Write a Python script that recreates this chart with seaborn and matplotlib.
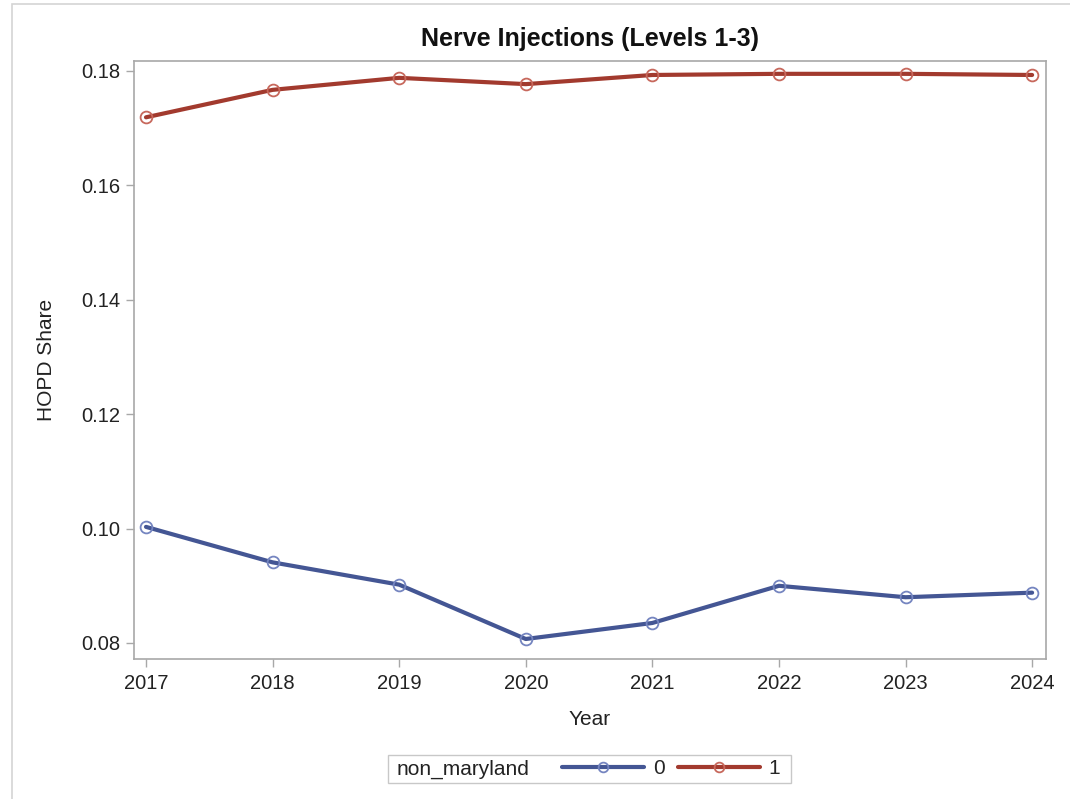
import matplotlib.pyplot as plt
import matplotlib.patches as mpatches
from matplotlib.lines import Line2D
import pandas as pd
import seaborn as sns

sns.set_theme(style="white")
plt.rcParams['font.family'] = ['Liberation Sans', 'DejaVu Sans']

years = [2017, 2018, 2019, 2020, 2021, 2022, 2023, 2024]
share_0 = [0.1003, 0.0941, 0.0902, 0.0807, 0.0835, 0.0900, 0.0880, 0.0888]
share_1 = [0.1719, 0.1767, 0.1788, 0.1777, 0.1793, 0.1795, 0.1795, 0.1793]
groups = ['0', '1']
line_colors = {'0': '#445694', '1': '#A23A2E'}
marker_colors = {'0': '#7585c0', '1': '#c7685c'}

df = pd.DataFrame({
    'Year': years * 2,
    'HOPD Share': share_0 + share_1,
    'non_maryland': ['0'] * len(years) + ['1'] * len(years),
})

fig = plt.figure(figsize=(10.7, 7.99), dpi=100)
ax = fig.add_axes([0.1252, 0.1752, 0.8524, 0.7485])

sns.lineplot(data=df, x='Year', y='HOPD Share', hue='non_maryland', hue_order=groups,
             palette=line_colors, marker='o', markersize=8.5, markerfacecolor='none',
             markeredgewidth=1.3, linewidth=3.0, legend=False, ax=ax)
for line, g in zip(ax.lines, groups):
    line.set_markeredgecolor(marker_colors[g])

ax.set_xlim(2016.905, 2024.11)
ax.set_ylim(0.0772, 0.18175)
ax.set_xticks(years)
ax.set_yticks([0.08, 0.10, 0.12, 0.14, 0.16, 0.18])
ax.set_yticklabels(['0.08', '0.10', '0.12', '0.14', '0.16', '0.18'])
ax.tick_params(axis='both', which='both', direction='out', length=6, width=1,
               color='#a8a8a8', labelsize=14.5, labelcolor='#222222', left=True, bottom=True)
ax.tick_params(axis='y', pad=4)
ax.tick_params(axis='x', pad=5)
for s in ax.spines.values():
    s.set_color('#a8a8a8')
    s.set_linewidth(1.2)

ax.set_xlabel('Year', fontsize=15, color='#222222', labelpad=12)
ax.set_ylabel('HOPD Share', fontsize=15, color='#222222', labelpad=18)
ax.set_title('Nerve Injections (Levels 1-3)', fontsize=18, fontweight='bold', pad=11,
             color='#111111')

# outer frame
fig.patches.append(mpatches.Rectangle((12 / 1070, -0.1), 1.2, 1.1 - 4 / 799, transform=fig.transFigure,
                                      fill=False, edgecolor='#d4d4d4', linewidth=1.2))

# legend box: label + line entries
fig.patches.append(mpatches.Rectangle((388 / 1070, 1 - 783 / 799), 403 / 1070, 28 / 799,
                                      transform=fig.transFigure, fill=False,
                                      edgecolor='#c8c8c8', linewidth=1))
fig.text(397 / 1070, 1 - 769 / 799, 'non_maryland', fontsize=15, color='#222222',
         ha='left', va='center')
handles = [Line2D([], [], color=line_colors[g], linewidth=3.0, marker='o', markersize=7,
                  markerfacecolor='none', markeredgecolor=marker_colors[g], markeredgewidth=1.3)
           for g in groups]
fig.legend(handles, groups, loc='center left', bbox_to_anchor=(562 / 1070, 1 - 769 / 799),
           ncol=2, frameon=False, fontsize=15, handlelength=3.94, handletextpad=0.43,
           columnspacing=0.62, borderpad=0, borderaxespad=0)

fig.savefig('out.png', dpi=100)
